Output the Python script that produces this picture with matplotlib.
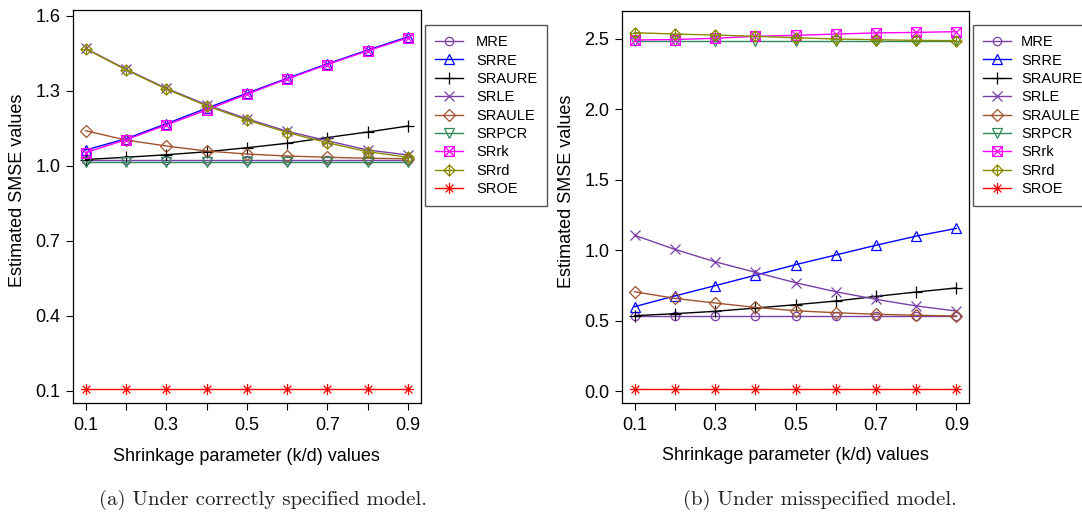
import numpy as np
import matplotlib.pyplot as plt
from matplotlib.path import Path

plt.rcParams['font.family'] = ['Liberation Sans', 'DejaVu Sans']

k_values = [0.1, 0.2, 0.3, 0.4, 0.5, 0.6, 0.7, 0.8, 0.9]
series_names = ['MRE', 'SRRE', 'SRAURE', 'SRLE', 'SRAULE', 'SRPCR', 'SRrk', 'SRrd', 'SROE']

# (a) correctly specified model
mre_a = [1.023, 1.023, 1.023, 1.023, 1.023, 1.023, 1.023, 1.023, 1.023]
srre_a = [1.063, 1.108, 1.168, 1.230, 1.290, 1.350, 1.408, 1.463, 1.516]
sraure_a = [1.025, 1.034, 1.044, 1.056, 1.072, 1.090, 1.113, 1.135, 1.159]
srle_a = [1.470, 1.386, 1.310, 1.244, 1.188, 1.138, 1.100, 1.063, 1.043]
sraule_a = [1.140, 1.103, 1.079, 1.059, 1.047, 1.039, 1.034, 1.030, 1.028]
srpcr_a = [1.016, 1.016, 1.016, 1.016, 1.016, 1.016, 1.016, 1.016, 1.016]
srrk_a = [1.053, 1.104, 1.163, 1.223, 1.286, 1.347, 1.405, 1.460, 1.512]
srrd_a = [1.468, 1.384, 1.307, 1.240, 1.183, 1.133, 1.092, 1.056, 1.034]
sroe_a = [0.107, 0.107, 0.107, 0.107, 0.107, 0.107, 0.107, 0.107, 0.107]

# (b) misspecified model
mre_b = [0.533, 0.533, 0.533, 0.533, 0.533, 0.533, 0.533, 0.533, 0.533]
srre_b = [0.599, 0.675, 0.748, 0.822, 0.897, 0.966, 1.035, 1.100, 1.155]
sraure_b = [0.535, 0.549, 0.566, 0.589, 0.613, 0.639, 0.672, 0.703, 0.732]
srle_b = [1.106, 1.006, 0.918, 0.843, 0.769, 0.705, 0.651, 0.604, 0.568]
sraule_b = [0.705, 0.658, 0.625, 0.594, 0.570, 0.556, 0.545, 0.538, 0.533]
srpcr_b = [2.487, 2.487, 2.487, 2.487, 2.487, 2.487, 2.487, 2.487, 2.487]
srrk_b = [2.493, 2.496, 2.505, 2.519, 2.526, 2.535, 2.543, 2.547, 2.552]
srrd_b = [2.545, 2.535, 2.528, 2.519, 2.509, 2.500, 2.495, 2.490, 2.488]
sroe_b = [0.014, 0.014, 0.014, 0.014, 0.014, 0.014, 0.014, 0.014, 0.014]

data_a = [mre_a, srre_a, sraure_a, srle_a, sraule_a, srpcr_a, srrk_a, srrd_a, sroe_a]
data_b = [mre_b, srre_b, sraure_b, srle_b, sraule_b, srpcr_b, srrk_b, srrd_b, sroe_b]


def seg_path(closed, segs):
    verts, codes = [], []
    if closed:
        verts += closed + [closed[0]]
        codes += [Path.MOVETO] + [Path.LINETO] * (len(closed) - 1) + [Path.CLOSEPOLY]
    for a, b in segs:
        verts += [a, b]
        codes += [Path.MOVETO, Path.LINETO]
    return Path(verts, codes)


square_x = seg_path([(-1, -1), (1, -1), (1, 1), (-1, 1)], [((-1, -1), (1, 1)), ((-1, 1), (1, -1))])
diamond_plus = seg_path([(0, -1), (1, 0), (0, 1), (-1, 0)], [((-1, 0), (1, 0)), ((0, -1), (0, 1))])
asterisk = seg_path(None, [((-1, 0), (1, 0)), ((0, -1), (0, 1)),
                           ((-0.7, -0.7), (0.7, 0.7)), ((-0.7, 0.7), (0.7, -0.7))])

colors = ['#7a3fa6', '#0000ff', '#000000', '#7a3fa6', '#a0522d', '#2e8b57', '#ff00ff', '#8b8b00', '#ff0000']
markers = ['o', '^', '+', 'x', 'D', 'v', square_x, diamond_plus, asterisk]
msizes = [6, 7, 9, 7, 6, 7, 7, 8, 8]

fig = plt.figure(figsize=(10.82, 5.19), dpi=100)
ax1 = fig.add_axes([0.0672, 0.2235, 0.3219, 0.7572])
ax2 = fig.add_axes([0.5746, 0.2241, 0.3213, 0.7553])


def draw(ax, data, ylim, yticks, leg_x, textpad):
    for name, vals, c, m, ms in zip(series_names, data, colors, markers, msizes):
        ax.plot(k_values, vals, color=c, marker=m, markersize=ms, markerfacecolor='none',
                markeredgecolor=c, markeredgewidth=0.9, linewidth=1.0, label=name)
    ax.set_xlim(0.068, 0.932)
    ax.set_ylim(*ylim)
    ax.set_xticks(k_values)
    ax.set_xticklabels([f'{v:.1f}' if i % 2 == 0 else '' for i, v in enumerate(k_values)])
    ax.set_yticks(yticks)
    ax.set_yticklabels([f'{v:.1f}' for v in yticks])
    ax.tick_params(direction='out', length=5, width=0.8, labelsize=13, pad=4)
    ax.tick_params(axis='x', pad=5)
    for s in ax.spines.values():
        s.set_linewidth(0.9)
    ax.set_xlabel('Shrinkage parameter (k/d) values', fontsize=13, labelpad=10)
    ax.set_ylabel('Estimated SMSE values', fontsize=13)
    ax.yaxis.set_label_coords(-0.135, 0.54)
    fig.legend(*ax.get_legend_handles_labels(), loc='upper left',
               bbox_to_anchor=(leg_x, 1 - 25 / 519), bbox_transform=fig.transFigure,
               borderaxespad=0, fancybox=False, edgecolor='#555555', framealpha=1,
               fontsize=10.5, handlelength=1.9, handletextpad=textpad, labelspacing=0.3,
               borderpad=0.7)


draw(ax1, data_a, (0.051, 1.623), [0.1, 0.4, 0.7, 1.0, 1.3, 1.6], 425 / 1082, 0.9)
draw(ax2, data_b, (-0.083, 2.701), [0.0, 0.5, 1.0, 1.5, 2.0, 2.5], 973 / 1082, 0.7)

fig.text(263 / 1082, 1 - 500 / 519, '(a) Under correctly specified model.',
         family='cmr10', fontsize=15, ha='center', va='center', color='#222222')
fig.text(820 / 1082, 1 - 500 / 519, '(b) Under misspecified model.',
         family='cmr10', fontsize=15, ha='center', va='center', color='#222222')

fig.savefig('out.png', dpi=100)
